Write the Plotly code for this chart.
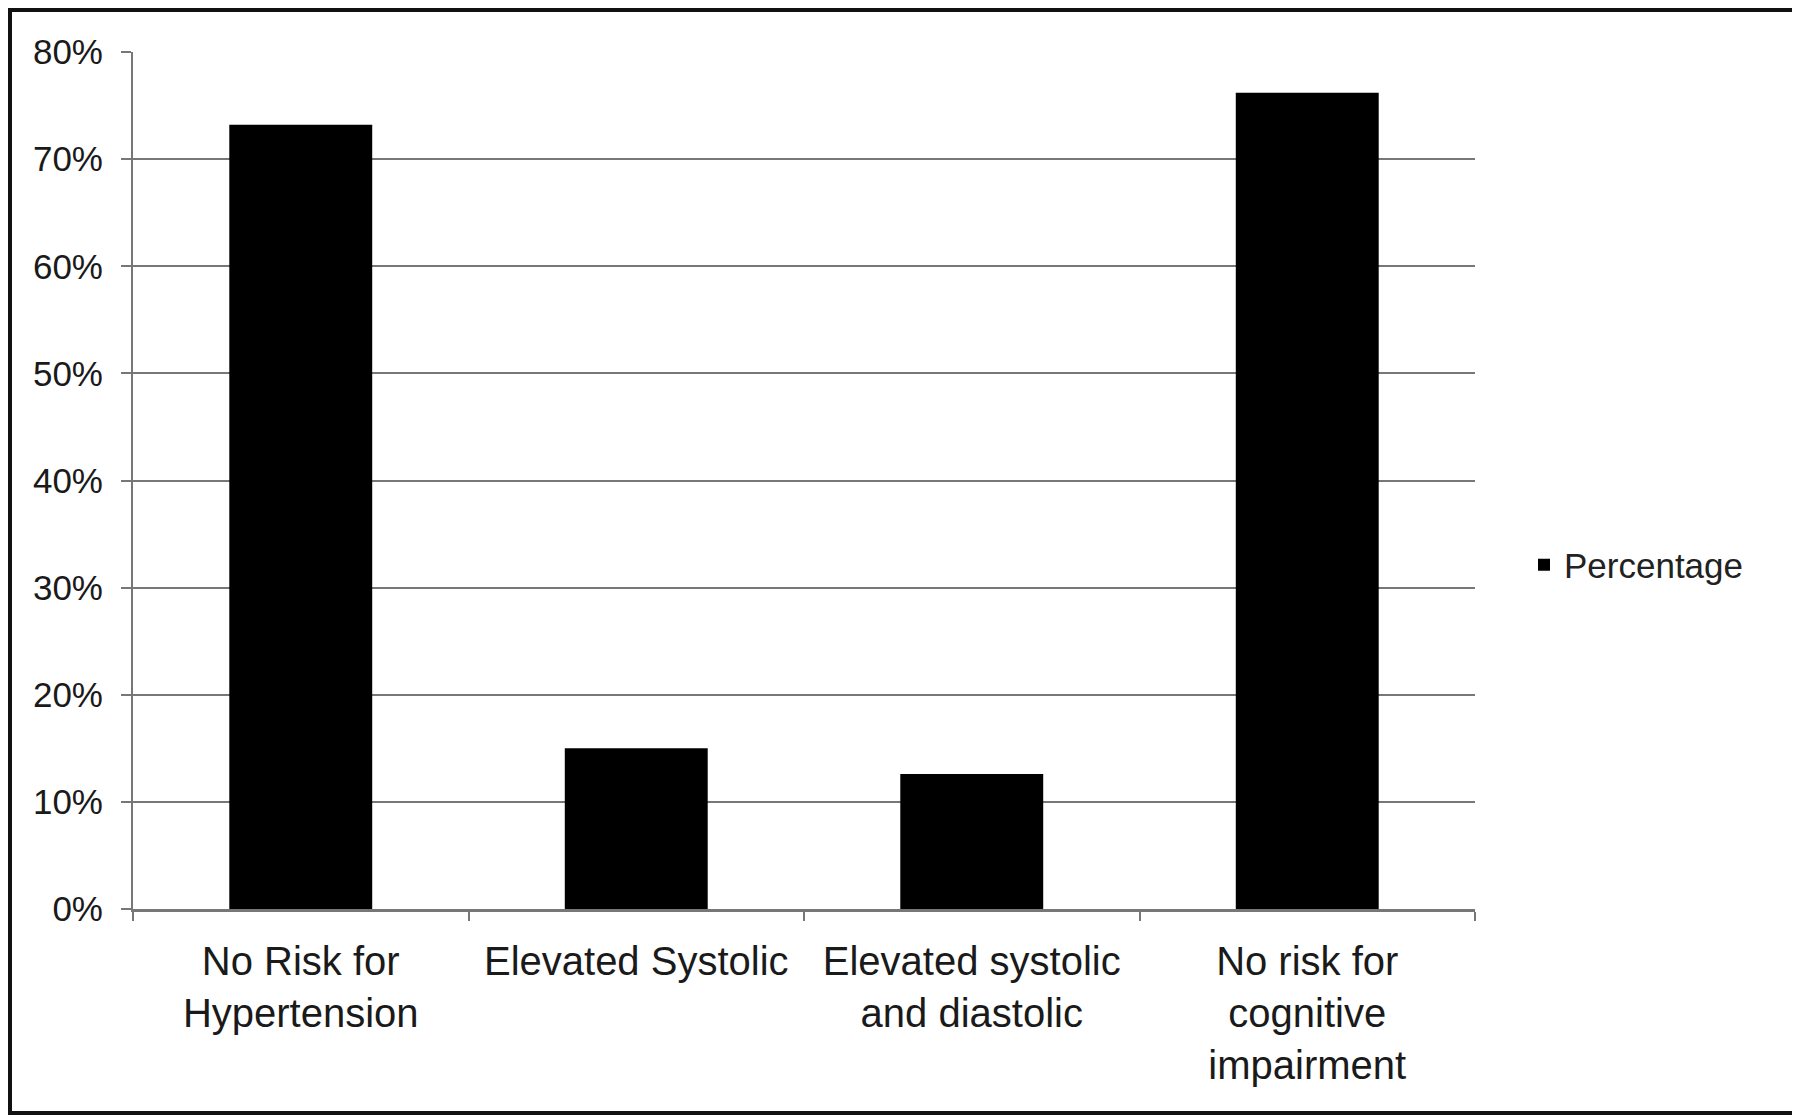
import plotly.graph_objects as go

categories = ["No Risk for<br>Hypertension", "Elevated Systolic",
              "Elevated systolic<br>and diastolic", "No risk for<br>cognitive<br>impairment"]
percentages = [73.2, 15.0, 12.6, 76.2]
series_name = "Percentage"
y_ticks = [0, 10, 20, 30, 40, 50, 60, 70, 80]
y_tick_labels = [f"{v}%" for v in y_ticks]

# the page body has an 8px margin, so the figure is laid out in its own coordinates
W, H = 1792, 1109
L, R, T, B = 125, 1467, 44, 901
pw, ph = R - L, B - T


def px_x(x):
    return (x - L) / pw


def px_y(y):
    return (B - y) / ph


fig = go.Figure()
fig.add_trace(go.Bar(x=categories, y=percentages, name=series_name,
                     marker=dict(color="#000000", line=dict(width=0)),
                     showlegend=True))

fig.update_layout(
    width=W, height=H,
    margin=dict(l=L, r=W - R, t=T, b=H - B, autoexpand=False),
    paper_bgcolor="white", plot_bgcolor="white",
    font=dict(family="Liberation Sans, Arial, sans-serif", color="#1a1a1a"),
    bargap=0.574,
    showlegend=True,
    legend=dict(x=px_x(1516), y=px_y(557), xanchor="left", yanchor="middle",
                font=dict(size=35, color="#222"), bgcolor="rgba(0,0,0,0)"),
    xaxis=dict(showline=True, linecolor="#777777", linewidth=3,
               ticks="outside", ticklen=9, tickwidth=2, tickcolor="#777777",
               tickson="boundaries", showgrid=False,
               tickfont=dict(size=40, color="#1a1a1a"), ticklabelstandoff=15),
    yaxis=dict(range=[0, 80], tickvals=y_ticks, ticktext=y_tick_labels,
               showline=True, linecolor="#777777", linewidth=2,
               showgrid=True, gridcolor="#777777", gridwidth=2,
               zeroline=False,
               ticks="outside", ticklen=10, tickwidth=2, tickcolor="#777777",
               tickfont=dict(size=35, color="#1a1a1a"), ticklabelstandoff=11),
)

# outer frame around the whole picture
fig.add_shape(type="rect", xref="paper", yref="paper",
              x0=px_x(2), x1=px_x(1789), y0=px_y(1105), y1=px_y(2),
              line=dict(color="#111", width=4), fillcolor="rgba(0,0,0,0)", layer="below")

fig.write_html("out.html")
